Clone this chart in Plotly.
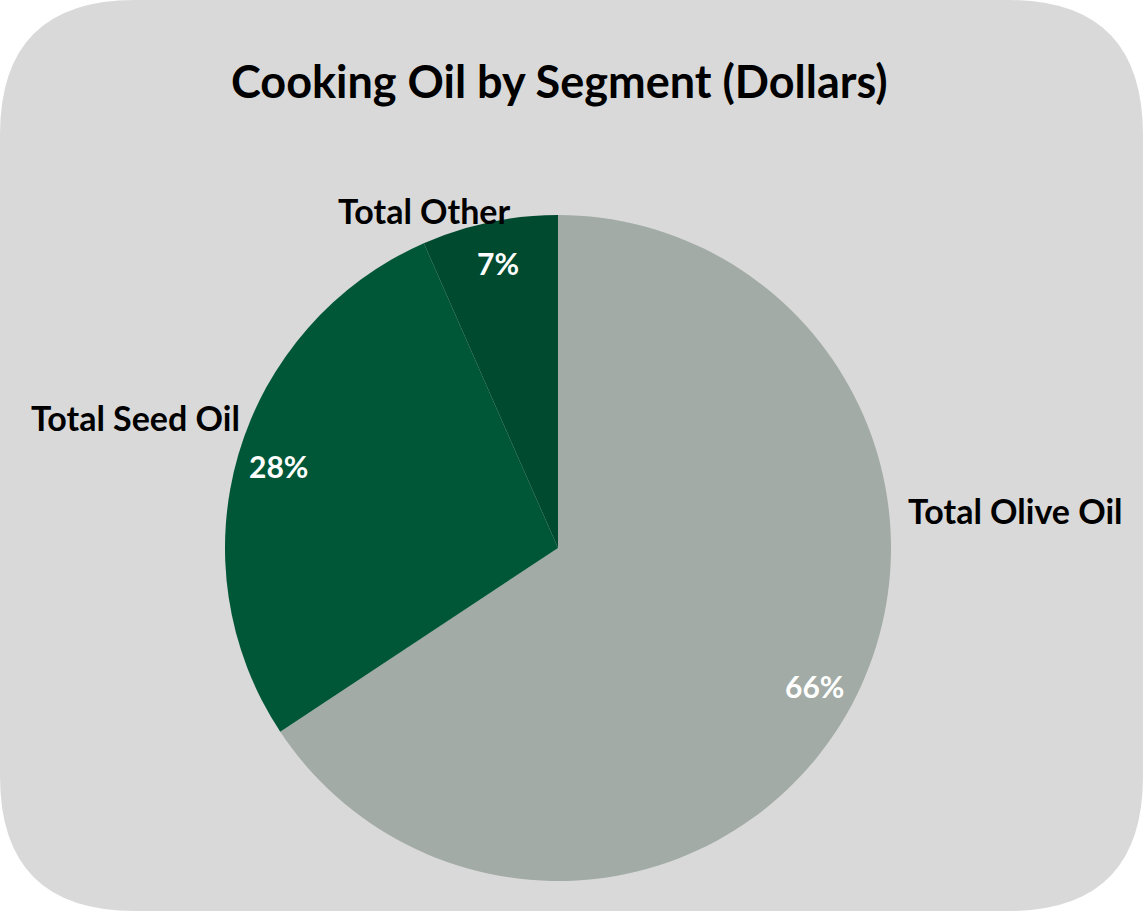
import math
import plotly.graph_objects as go

# Share of cooking-oil dollar sales by segment
segments = ["Total Olive Oil", "Total Seed Oil", "Total Other"]
shares = [65.7, 27.7, 6.6]
colors = ["#a2aba5", "#005737", "#004a2f"]

W, H = 1143, 911
FONT = "Lato"

# pie geometry in pixels (margins are zero, so paper == page)
cx_px, cy_px, r_px = 558, 548, 333
dom_x = [(cx_px - r_px) / W, (cx_px + r_px) / W]
dom_y = [1 - (cy_px + r_px) / H, 1 - (cy_px - r_px) / H]

fig = go.Figure()

# rounded grey card behind everything
rad = 135
x0, y0, x1, y1 = 0, 0, W, H
path = (
    f"M {x0 + rad},{y0} L {x1 - rad},{y0} Q {x1},{y0} {x1},{y0 + rad} "
    f"L {x1},{y1 - rad} Q {x1},{y1} {x1 - rad},{y1} "
    f"L {x0 + rad},{y1} Q {x0},{y1} {x0},{y1 - rad} "
    f"L {x0},{y0 + rad} Q {x0},{y0} {x0 + rad},{y0} Z"
)
fig.add_shape(type="path", xref="x", yref="y", path=path,
              fillcolor="#d9d9d9", line=dict(width=0), layer="below")

fig.add_trace(go.Pie(
    labels=segments,
    values=shares,
    sort=False,
    direction="clockwise",
    rotation=0,
    marker=dict(colors=colors, line=dict(width=0)),
    textinfo="none",
    hoverinfo="label+percent",
    showlegend=False,
    domain=dict(x=dom_x, y=dom_y),
))

# percentage labels placed along each slice's mid-angle
total = sum(shares)
cum = 0.0
for name, v in zip(segments, shares):
    mid = (cum + v / 2) / total * 2 * math.pi
    cum += v
    rr = 0.875 * r_px
    px = cx_px + rr * math.sin(mid)
    py = cy_px - rr * math.cos(mid)
    fig.add_annotation(
        x=px, y=py, xref="x", yref="y",
        text=f"<b>{round(v / total * 100):.0f}%</b>",
        showarrow=False,
        font=dict(family=FONT, size=30, color="white"),
    )

# category names beside the pie
name_pos = {
    "Total Olive Oil": (1015, 510),
    "Total Seed Oil": (135, 417),
    "Total Other": (424, 210),
}
for name in segments:
    px, py = name_pos[name]
    fig.add_annotation(
        x=px, y=py, xref="x", yref="y",
        text=f"<b>{name}</b>",
        showarrow=False,
        font=dict(family=FONT, size=34, color="black"),
    )

fig.add_annotation(
    x=559, y=81, xref="x", yref="y",
    text="<b>Cooking Oil by Segment (Dollars)</b>",
    showarrow=False,
    font=dict(family=FONT, size=45, color="black"),
)

fig.update_layout(
    width=W, height=H,
    margin=dict(l=0, r=0, t=0, b=0),
    paper_bgcolor="white",
    plot_bgcolor="rgba(0,0,0,0)",
    xaxis=dict(range=[0, W], visible=False, fixedrange=True),
    yaxis=dict(range=[H, 0], visible=False, fixedrange=True),
)

fig.write_html("out.html")
